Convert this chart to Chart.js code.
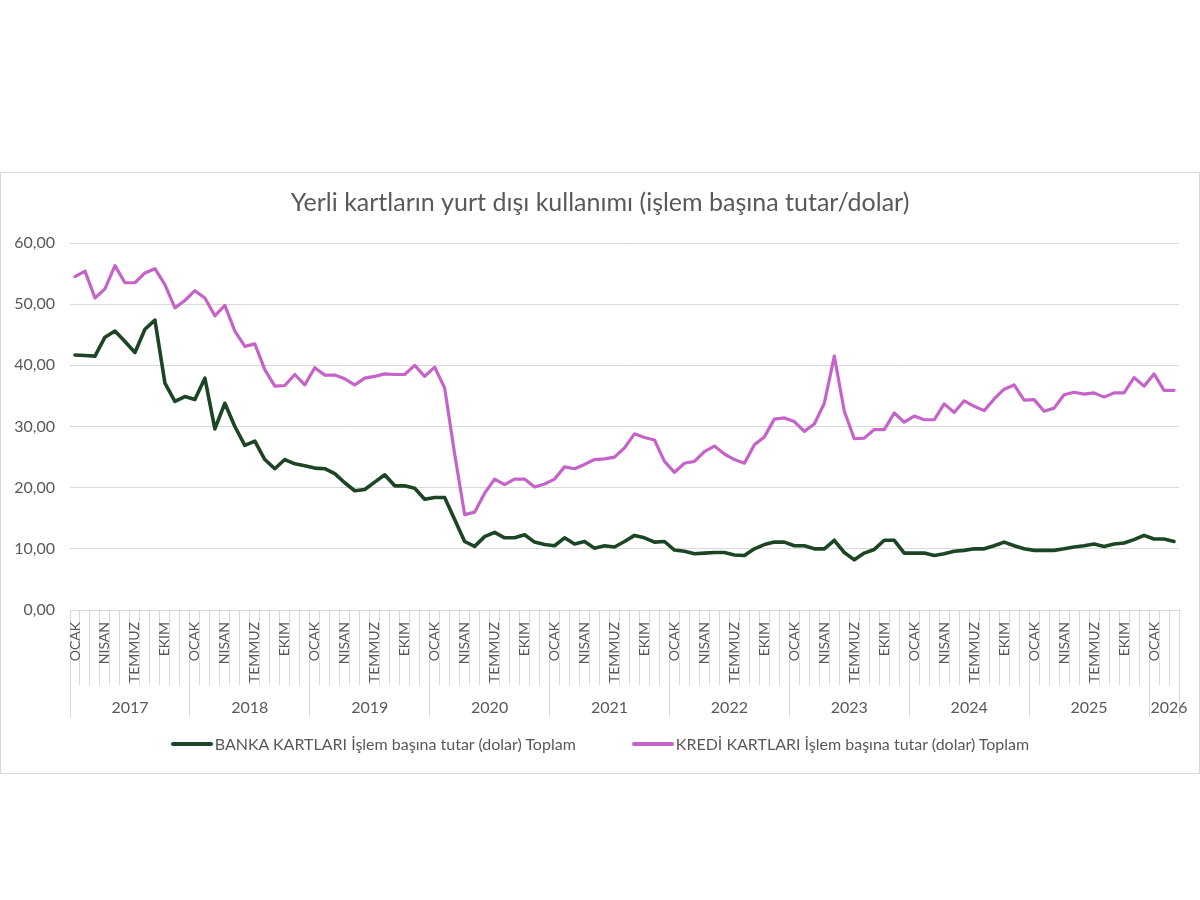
<!DOCTYPE html>
<html lang="tr">
<head>
<meta charset="utf-8">
<title>Yerli kartların yurt dışı kullanımı</title>
<script src="https://cdn.jsdelivr.net/npm/chart.js@4.4.1/dist/chart.umd.min.js"></script>
<style>
  html, body { margin: 0; padding: 0; background: #fff; }
  body { width: 1200px; height: 900px; position: relative; overflow: hidden; }
  .frame { position: absolute; left: 0; top: 172px; width: 1200px; height: 602px;
           border: 1px solid #d9d9d9; box-sizing: border-box; }
  .chart-box { position: relative; width: 1198px; height: 600px; }
  #legend { position: absolute; left: 0; top: 561px; width: 1198px; display: flex;
            justify-content: center; gap: 56px; font: 16px Lato, 'Open Sans', sans-serif;
            color: #595959; line-height: 20px; }
  #legend .item { display: flex; align-items: center; gap: 2px; }
  #legend .swatch { display: inline-block; width: 42px; height: 4px; border-radius: 2px; }
</style>
</head>
<body>
<div class="frame">
  <div class="chart-box"><canvas id="kartChart"></canvas></div>
  <div id="legend"></div>
</div>
<script>
/* Yerli kartların yurt dışı kullanımı – işlem başına tutar (dolar)
   Aylık seri: Ocak 2017 – Mart 2026 */

const years = ['2017', '2018', '2019', '2020', '2021', '2022', '2023', '2024', '2025', '2026'];
const monthsPerYear = [12, 12, 12, 12, 12, 12, 12, 12, 12, 3];
const monthNames = ['OCAK', 'ŞUBAT', 'MART', 'NISAN', 'MAYIS', 'HAZIRAN',
                    'TEMMUZ', 'AĞUSTOS', 'EYLÜL', 'EKIM', 'KASIM', 'ARALIK'];
const shownMonths = ['OCAK', 'NISAN', 'TEMMUZ', 'EKIM'];
const yTickValues = [0, 10, 20, 30, 40, 50, 60];

// BANKA KARTLARI (yeşil)
const bankaKartlari = [
  41.7, 41.6, 41.5, 44.6, 45.6, 43.9, 42.1, 45.9, 47.4, 37.1, 34.1, 34.9,
  34.4, 37.9, 29.6, 33.8, 30.0, 26.9, 27.6, 24.6, 23.1, 24.6, 23.9, 23.6,
  23.2, 23.1, 22.3, 20.8, 19.5, 19.7, 20.9, 22.1, 20.3, 20.3, 19.9, 18.1,
  18.4, 18.4, 14.8, 11.2, 10.4, 12.0, 12.7, 11.8, 11.8, 12.3, 11.1, 10.7,
  10.5, 11.8, 10.8, 11.2, 10.1, 10.5, 10.3, 11.2, 12.2, 11.8, 11.1, 11.2,
  9.8, 9.6, 9.2, 9.3, 9.4, 9.4, 9.0, 8.9, 10.0, 10.7, 11.1, 11.1,
  10.5, 10.5, 10.0, 10.0, 11.4, 9.4, 8.2, 9.3, 9.9, 11.4, 11.4, 9.3,
  9.3, 9.3, 8.9, 9.2, 9.6, 9.75, 10.0, 10.0, 10.5, 11.1, 10.5, 10.0,
  9.75, 9.75, 9.75, 10.0, 10.3, 10.5, 10.8, 10.4, 10.8, 10.95, 11.5, 12.2,
  11.6, 11.6, 11.2
];

// KREDİ KARTLARI (mor)
const krediKartlari = [
  54.5, 55.4, 51.0, 52.5, 56.3, 53.5, 53.5, 55.1, 55.8, 53.2, 49.4, 50.6,
  52.2, 51.0, 48.1, 49.8, 45.6, 43.1, 43.5, 39.3, 36.6, 36.7, 38.5, 36.8,
  39.6, 38.4, 38.4, 37.8, 36.8, 37.9, 38.2, 38.6, 38.5, 38.5, 40.0, 38.2,
  39.7, 36.3, 25.5, 15.6, 16.0, 19.1, 21.4, 20.5, 21.4, 21.4, 20.1, 20.6,
  21.4, 23.4, 23.1, 23.8, 24.6, 24.7, 25.0, 26.5, 28.8, 28.2, 27.8, 24.3,
  22.5, 24.0, 24.3, 25.9, 26.8, 25.5, 24.6, 24.0, 27.0, 28.3, 31.2, 31.4,
  30.8, 29.2, 30.4, 33.8, 41.5, 32.5, 28.0, 28.1, 29.5, 29.5, 32.2, 30.7,
  31.7, 31.1, 31.1, 33.7, 32.3, 34.2, 33.3, 32.6, 34.5, 36.1, 36.8, 34.3,
  34.4, 32.5, 33.0, 35.2, 35.6, 35.3, 35.5, 34.8, 35.5, 35.5, 38.0, 36.6,
  38.6, 35.9, 35.9
];

const GREEN = '#1c4524';
const PURPLE = '#c563c8';
const GRID = '#d9d9d9';
const TEXT = '#595959';
const FONT = "Lato, 'Open Sans', sans-serif";

// category list + where each year label sits
const categories = [];
const yearAt = {};
years.forEach((y, yi) => {
  const start = categories.length;
  for (let m = 0; m < monthsPerYear[yi]; m++) categories.push(y + '-' + (m + 1));
  yearAt[start + Math.ceil(monthsPerYear[yi] / 2)] = y;
});
const yearStarts = [];
monthsPerYear.reduce((acc, n) => { yearStarts.push(acc); return acc + n; }, 0);

const fmt = (v) => v.toFixed(2).replace('.', ',');

// legend drawn as html below the axes
const htmlLegend = {
  id: 'htmlLegend',
  afterUpdate(chart) {
    const box = document.getElementById('legend');
    box.innerHTML = '';
    chart.options.plugins.legend.labels.generateLabels(chart).forEach((item) => {
      const row = document.createElement('div');
      row.className = 'item';
      const sw = document.createElement('span');
      sw.className = 'swatch';
      sw.style.background = item.strokeStyle;
      const tx = document.createElement('span');
      tx.textContent = item.text;
      row.append(sw, tx);
      box.append(row);
    });
  }
};

Chart.defaults.font.family = FONT;
Chart.defaults.color = TEXT;

const ctx = document.getElementById('kartChart').getContext('2d');
new Chart(ctx, {
  type: 'line',
  data: {
    labels: categories,
    datasets: [
      {
        label: 'BANKA KARTLARI İşlem başına tutar (dolar) Toplam',
        data: bankaKartlari,
        borderColor: GREEN,
        backgroundColor: GREEN,
        borderWidth: 3.6
      },
      {
        label: 'KREDİ KARTLARI İşlem başına tutar (dolar) Toplam',
        data: krediKartlari,
        borderColor: PURPLE,
        backgroundColor: PURPLE,
        borderWidth: 3.2
      }
    ]
  },
  options: {
    responsive: true,
    maintainAspectRatio: false,
    animation: false,
    layout: { padding: { left: 0, right: 0, top: 0, bottom: 56 } },
    elements: {
      point: { radius: 0 },
      line: { tension: 0, borderJoinStyle: 'round', borderCapStyle: 'round' }
    },
    plugins: {
      legend: { display: false },
      tooltip: { enabled: false },
      title: {
        display: true,
        text: 'Yerli kartların yurt dışı kullanımı (işlem başına tutar/dolar)',
        color: TEXT,
        font: { size: 25, weight: 'normal', lineHeight: 1.2 },
        padding: { top: 15, bottom: 25 }
      }
    },
    scales: {
      x: {
        type: 'category',
        offset: true,
        grid: { offset: true, drawOnChartArea: false, drawTicks: true, tickLength: 75, color: GRID },
        border: { display: true, color: GRID },
        ticks: {
          autoSkip: false,
          minRotation: 90,
          maxRotation: 90,
          padding: -63,
          color: TEXT,
          font: { size: 14 },
          callback: function (v, i) {
            const name = monthNames[(i - yearStarts.filter((s) => s <= i).pop())];
            return shownMonths.includes(name) ? name : '';
          }
        },
        afterFit: (scale) => { scale.height = 75; }
      },
      x2: {
        type: 'category',
        position: 'bottom',
        weight: 1,
        offset: true,
        grid: {
          offset: true,
          drawOnChartArea: false,
          drawTicks: true,
          tickLength: 32,
          color: (c) => (c.index === undefined || yearStarts.includes(c.index)) ? GRID : 'rgba(0,0,0,0)'
        },
        border: { display: false },
        ticks: {
          autoSkip: false,
          maxRotation: 0,
          minRotation: 0,
          padding: -19,
          labelOffset: -5,
          color: TEXT,
          font: { size: 16 },
          callback: (v, i) => yearAt[i] || ''
        },
        afterFit: (scale) => { scale.height = 32; }
      },
      y: {
        min: 0,
        max: 60,
        grid: { color: GRID, drawTicks: false },
        border: { display: false },
        afterBuildTicks: (scale) => { scale.ticks = yTickValues.map((v) => ({ value: v })); },
        ticks: {
          padding: 15,
          color: TEXT,
          font: { size: 16 },
          callback: (v) => fmt(v)
        },
        afterFit: (scale) => { scale.width = 69; }
      },
      // empty right-hand axis, only keeps a margin after the last month
      yRight: {
        position: 'right',
        min: 0,
        max: 60,
        grid: { display: false, drawOnChartArea: false },
        border: { display: false },
        ticks: { display: false },
        afterFit: (scale) => { scale.width = 20; }
      }
    }
  },
  plugins: [htmlLegend]
});
</script>
</body>
</html>
